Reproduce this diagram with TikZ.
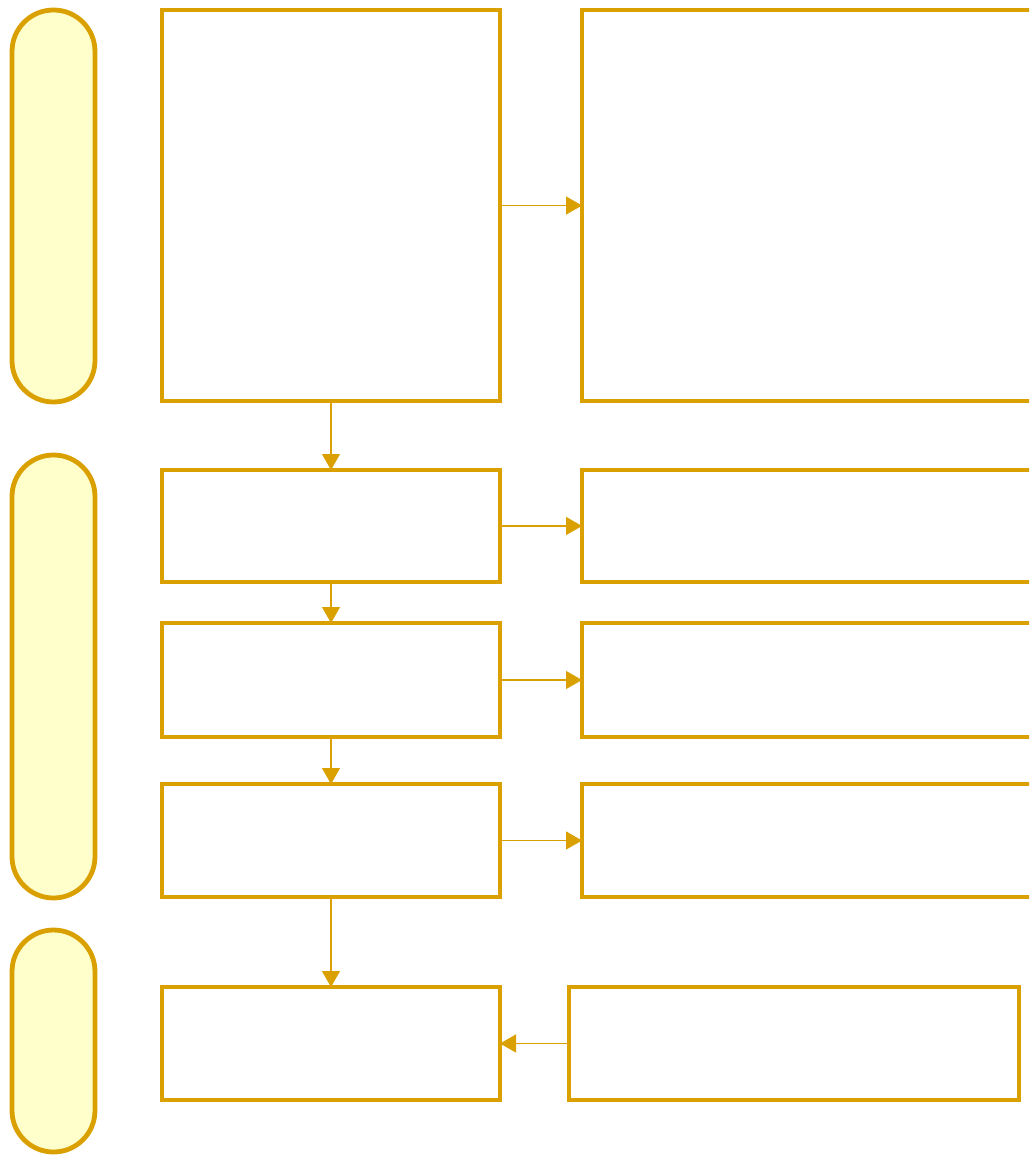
\documentclass[tikz,border=0pt]{standalone}
\usetikzlibrary{arrows.meta}
\definecolor{gold}{HTML}{D9A000}
\definecolor{paleyellow}{HTML}{FFFFCC}
\tikzset{
  box/.style={draw=gold, line width=4.8pt, fill=white, rectangle, inner sep=0pt, outer sep=0pt, anchor=north west, line join=miter},
  pill/.style={draw=gold, line width=4.8pt, fill=paleyellow, rectangle, rounded corners=41.5pt, inner sep=0pt, outer sep=0pt, anchor=north west, minimum width=83pt},
  conn/.style={draw=gold, line width=1.3pt, -{Triangle[length=16pt,width=18pt]}}
}
\begin{document}
\begin{tikzpicture}[x=1pt,y=-1pt]
\useasboundingbox (0,0) rectangle (1029,1155);
\clip (0,0) rectangle (1029,1155);
% lanes
\node[pill, minimum height=392pt] (p1) at (12,10) {};
\node[pill, minimum height=443pt] (p2) at (12,455) {};
\node[pill, minimum height=222pt] (p3) at (12,930) {};
% left column
\node[box, minimum width=338pt, minimum height=391pt] (b1) at (162,10) {};
\node[box, minimum width=338pt, minimum height=112pt] (b2) at (162,470) {};
\node[box, minimum width=338pt, minimum height=114pt] (b3) at (162,623) {};
\node[box, minimum width=338pt, minimum height=113pt] (b4) at (162,784) {};
\node[box, minimum width=338pt, minimum height=113pt] (b5) at (162,987) {};
% right column
\node[box, minimum width=460pt, minimum height=391pt] (r1) at (582,10) {};
\node[box, minimum width=460pt, minimum height=112pt] (r2) at (582,470) {};
\node[box, minimum width=460pt, minimum height=114pt] (r3) at (582,623) {};
\node[box, minimum width=460pt, minimum height=113pt] (r4) at (582,784) {};
\node[box, minimum width=450pt, minimum height=113pt] (r5) at (569,987) {};
% connectors
\draw[conn] (b1.east) -- (r1.west);
\draw[conn] (b2.east) -- (r2.west);
\draw[conn] (b3.east) -- (r3.west);
\draw[conn] (b4.east) -- (r4.west);
\draw[conn] (r5.west) -- (b5.east);
\draw[conn] (b1.south) -- (b2.north);
\draw[conn] (b2.south) -- (b3.north);
\draw[conn] (b3.south) -- (b4.north);
\draw[conn] (b4.south) -- (b5.north);
\end{tikzpicture}
\end{document}
